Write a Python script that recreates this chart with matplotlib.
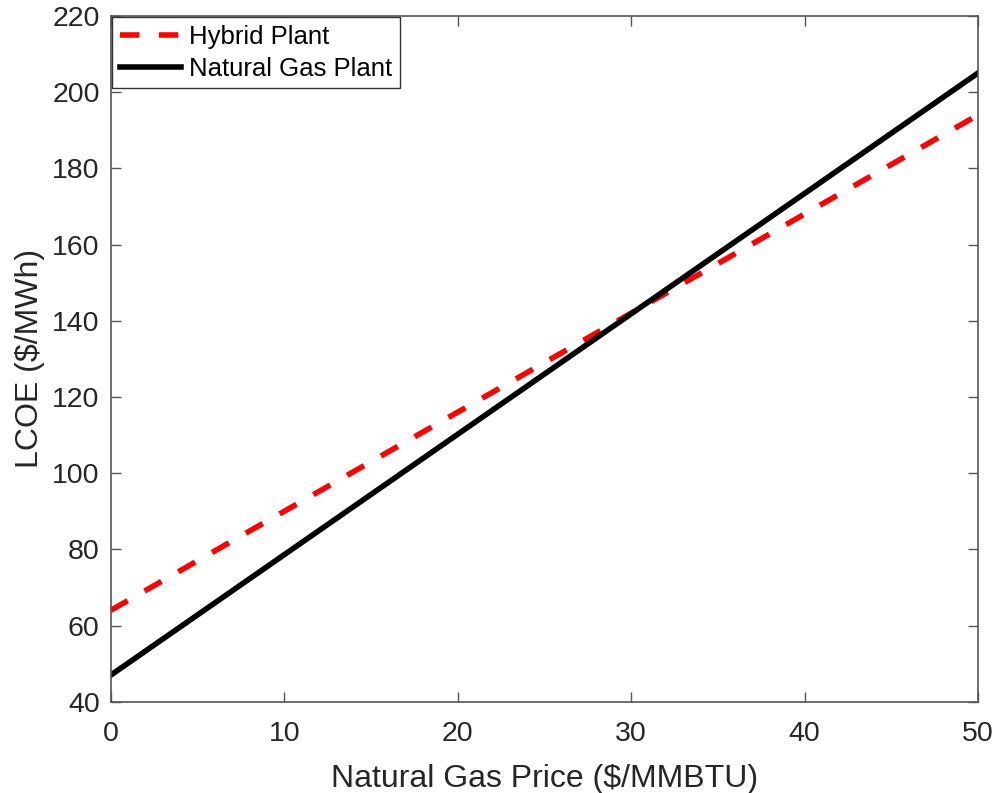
import numpy as np
import matplotlib
matplotlib.use("Agg")
import matplotlib.pyplot as plt

plt.rcParams["font.family"] = ["Liberation Sans", "DejaVu Sans"]

# LCOE vs. natural gas price
gas_price = [0, 10, 20, 30, 40, 50]
lcoe_hybrid = [64.0, 90.0, 116.0, 142.0, 168.0, 194.0]
lcoe_gas = [47.0, 78.6, 110.2, 141.8, 173.4, 205.0]

x_ticks = [0, 10, 20, 30, 40, 50]
y_ticks = [40, 60, 80, 100, 120, 140, 160, 180, 200, 220]

fig = plt.figure(figsize=(9.98, 7.93), dpi=100)
ax = fig.add_axes([0.111, 0.115, 0.869, 0.865])

ax.plot(gas_price, lcoe_hybrid, color="red", lw=4, linestyle=(0, (3.5, 3.5)),
        label="Hybrid Plant")
ax.plot(gas_price, lcoe_gas, color="black", lw=4, label="Natural Gas Plant")

ax.set_xlim(0, 50)
ax.set_ylim(40, 220)
ax.set_xticks(x_ticks)
ax.set_yticks(y_ticks)

text_col = "#262626"
ax.tick_params(direction="in", top=True, right=True, length=7, width=1,
               colors="#555555", labelcolor=text_col, labelsize=20.5)
ax.tick_params(axis="y", pad=8)
ax.tick_params(axis="x", pad=14)
for sp in ax.spines.values():
    sp.set_color("#555555")
    sp.set_linewidth(1.2)

ax.set_xlabel("Natural Gas Price ($/MMBTU)", fontsize=23, color=text_col, labelpad=12)
ax.set_ylabel("LCOE ($/MWh)", fontsize=23, color=text_col, labelpad=5)

leg = ax.legend(loc="upper left", fontsize=18.5, frameon=True, fancybox=False,
                edgecolor="#333333", framealpha=1, borderaxespad=0.05,
                handlelength=2.4, handletextpad=0.3, borderpad=0.3,
                labelspacing=0.3)
leg.get_frame().set_linewidth(1.0)

fig.savefig("out.png", dpi=100)
